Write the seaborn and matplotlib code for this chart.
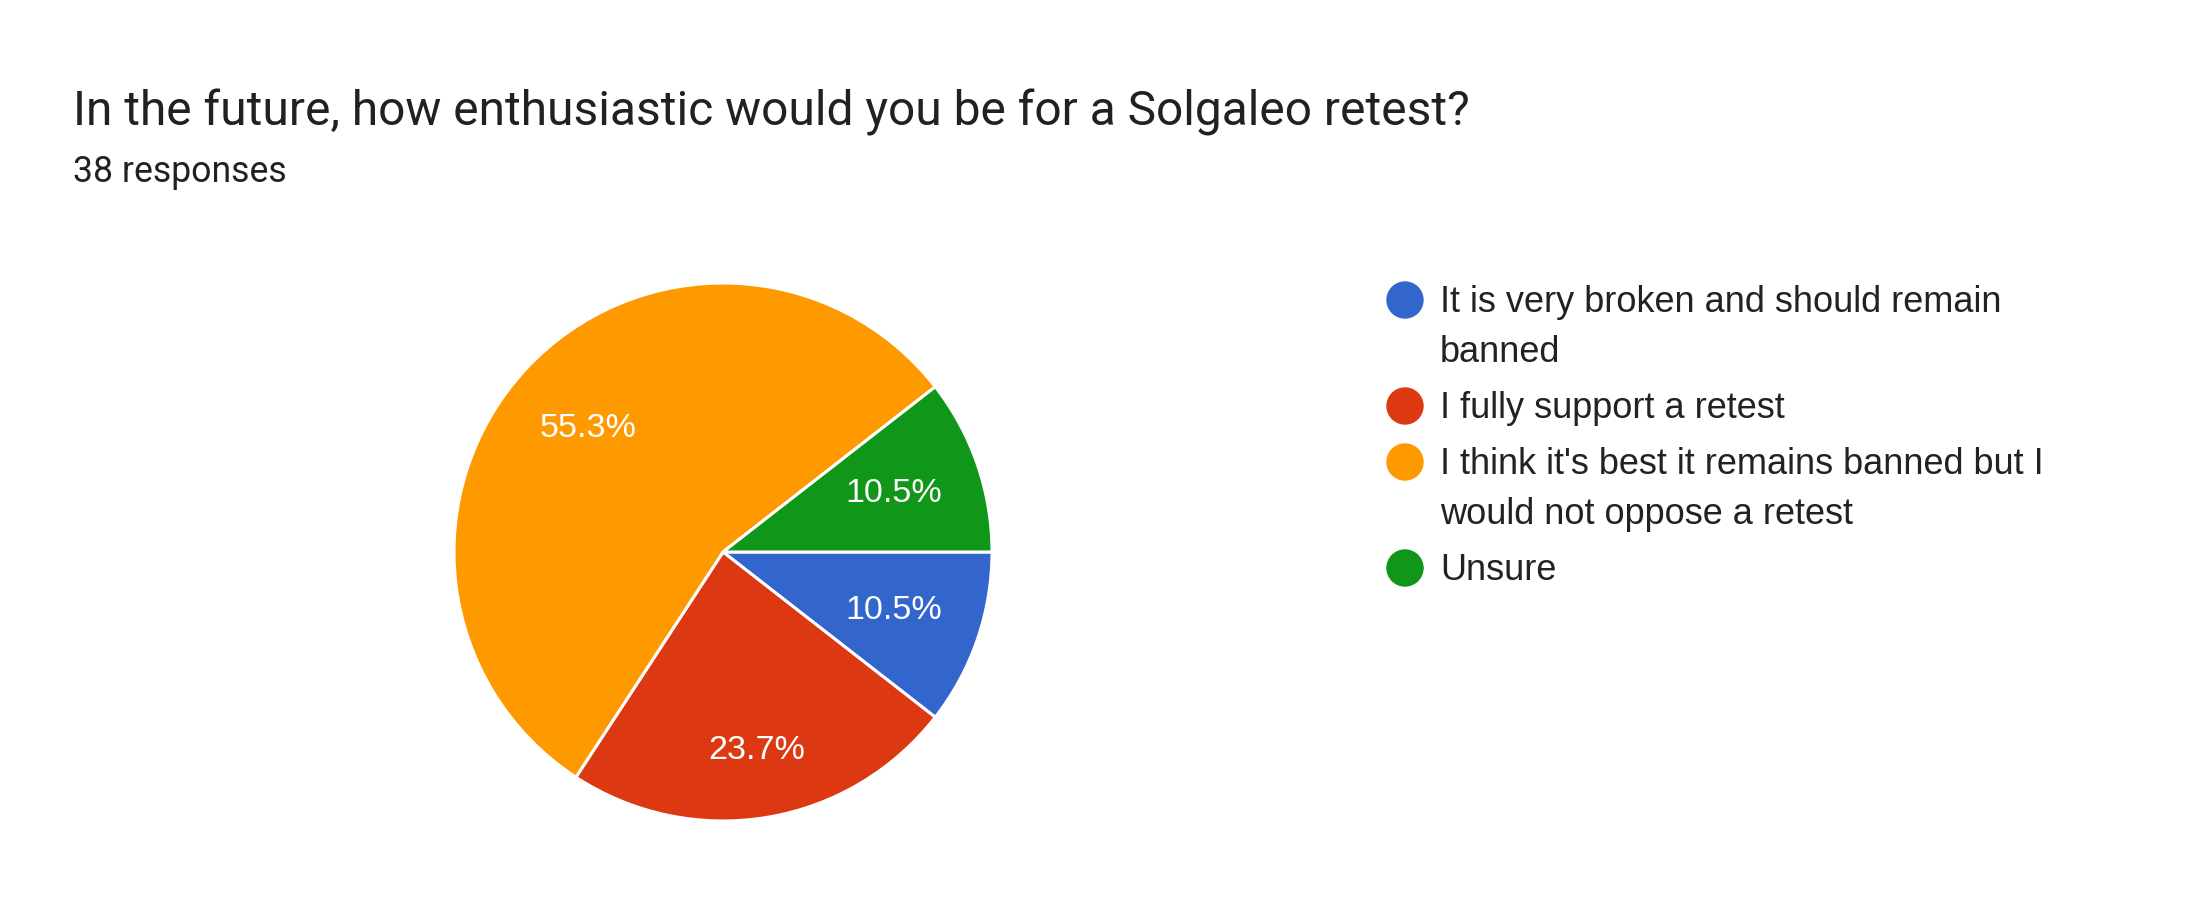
import matplotlib
matplotlib.use("Agg")
import matplotlib.pyplot as plt
import seaborn as sns
import numpy as np
from matplotlib.patches import Ellipse

# ---- data ----
categories = [
    "It is very broken and should remain\nbanned",
    "I fully support a retest",
    "I think it's best it remains banned but I\nwould not oppose a retest",
    "Unsure",
]
counts = [4, 9, 21, 4]
colors = ["#3366cc", "#dc3912", "#ff9900", "#109618"]
title = "In the future, how enthusiastic would you be for a Solgaleo retest?"
subtitle = f"{sum(counts)} responses"

sns.set_theme(style="white")
plt.rcParams["font.family"] = ["Liberation Sans", "DejaVu Sans"]

W, H = 2196, 924
fig = plt.figure(figsize=(W / 100, H / 100), dpi=100)
fig.patch.set_facecolor("white")

def px(x, y):
    return x / W, 1 - y / H

# title / subtitle
fig.text(*px(73, 112), title, fontsize=34.5, family=["Roboto", "DejaVu Sans"],
         color="#202124", va="center", ha="left")
fig.text(*px(73, 172), subtitle, fontsize=25.7, family=["Roboto", "DejaVu Sans"],
         color="#202124", va="center", ha="left")

# pie
cx, cy, r = 723, 552, 269
ax = fig.add_axes([(cx - r) / W, (H - cy - r) / H, 2 * r / W, 2 * r / H])
palette = sns.color_palette(colors)
wedges, texts, autotexts = ax.pie(
    counts, colors=palette, startangle=0, counterclock=False,
    autopct="%.1f%%", pctdistance=0.68,
    wedgeprops=dict(edgecolor="white", linewidth=2.2),
    textprops=dict(color="white", fontsize=24.5),
)
dists = [0.67, 0.75, 0.68, 0.67]
for w, t, d in zip(wedges, autotexts, dists):
    ang = np.deg2rad((w.theta1 + w.theta2) / 2)
    t.set_position((d * np.cos(ang), d * np.sin(ang)))
ax.set_xlim(-1, 1)
ax.set_ylim(-1, 1)
ax.set_aspect("equal")
ax.axis("off")

# legend
lax = fig.add_axes([0, 0, 1, 1])
lax.set_xlim(0, W)
lax.set_ylim(H, 0)
lax.axis("off")
y = 300
for lab, col in zip(categories, palette):
    lax.add_patch(Ellipse((1405, y), 36, 36, color=col))
    lax.text(1440, y - 15, lab, fontsize=26, color="#222222", va="top",
             ha="left", linespacing=1.55, transform=lax.transData)
    nlines = lab.count("\n") + 1
    y += 50 * (nlines - 1) + 56

fig.savefig("out.png", dpi=100, facecolor="white")
